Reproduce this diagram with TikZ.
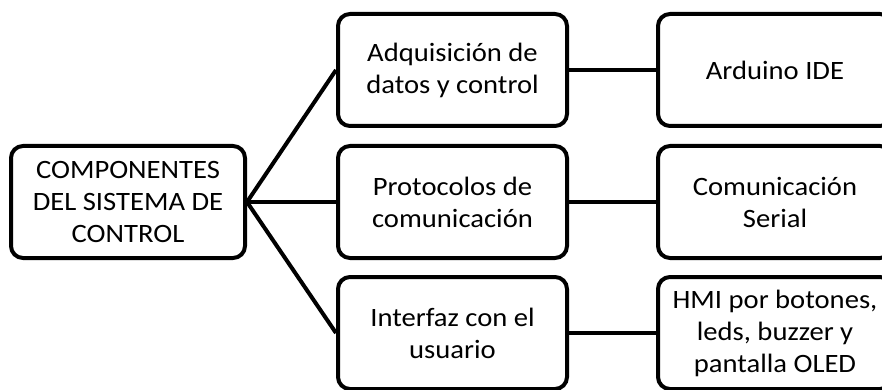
\documentclass[tikz,border=0pt]{standalone}
\usepackage{fontspec}
\setmainfont{Carlito}[FakeStretch=1.08]
\tikzset{
  caja/.style={draw, line width=4pt, rounded corners=12pt, align=center,
    minimum width=229pt, minimum height=112pt, inner sep=0pt,
    font=\fontsize{26.5}{32}\selectfont},
  enlace/.style={line width=4pt}
}
\begin{document}
\begin{tikzpicture}[x=1pt,y=-1pt]
  \useasboundingbox (0,0) rectangle (882,390);
  \node[caja, minimum width=234pt] (comp) at (128,202) {COMPONENTES\\DEL SISTEMA DE\\CONTROL};
  \node[caja] (adq) at (452.5,70) {Adquisición de\\datos y control};
  \node[caja] (prot) at (452.5,202) {Protocolos de\\comunicación};
  \node[caja] (inter) at (452.5,333) {Interfaz con el\\usuario};
  \node[caja, minimum width=234pt] (ide) at (775,70) {Arduino IDE};
  \node[caja, minimum width=234pt] (serial) at (775,202) {Comunicación\\Serial};
  \node[caja, minimum width=234pt] (hmi) at (775,333) {HMI por botones,\\leds, buzzer y\\pantalla OLED};
  \draw[enlace] (comp.east) -- (adq.west);
  \draw[enlace] (comp.east) -- (prot.west);
  \draw[enlace] (comp.east) -- (inter.west);
  \draw[enlace] (adq) -- (ide);
  \draw[enlace] (prot) -- (serial);
  \draw[enlace] (inter) -- (hmi);
\end{tikzpicture}
\end{document}
